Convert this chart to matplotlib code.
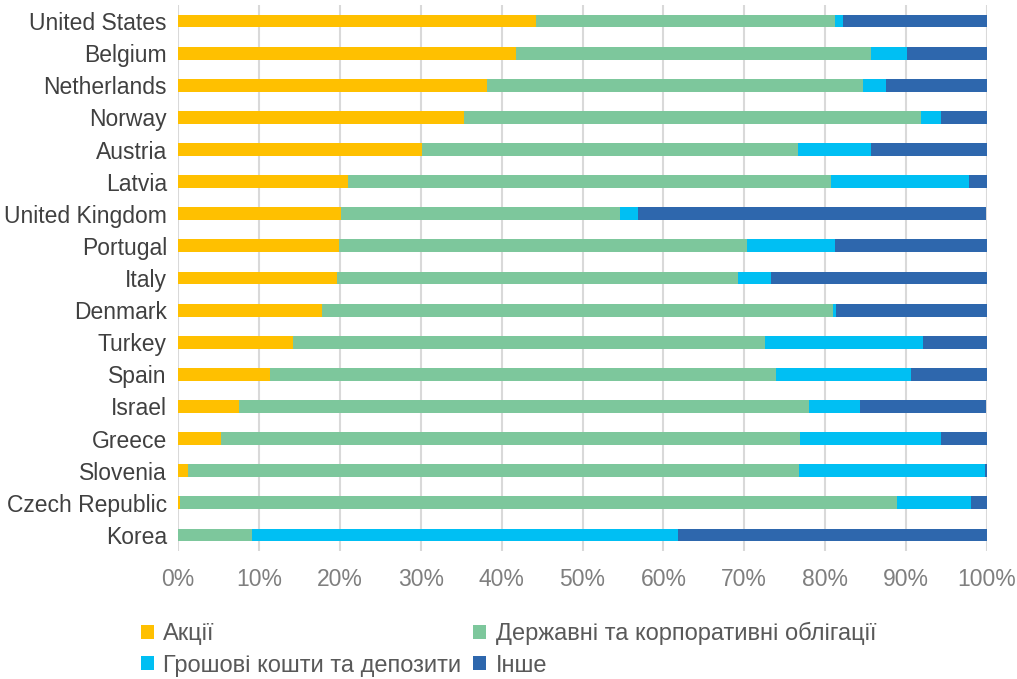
import matplotlib
matplotlib.use("Agg")
import matplotlib.pyplot as plt
from matplotlib.patches import Patch
import numpy as np

plt.rcParams['font.family'] = ['Liberation Sans', 'DejaVu Sans']

# Countries, top to bottom as shown
countries = ['United States', 'Belgium', 'Netherlands', 'Norway', 'Austria',
             'Latvia', 'United Kingdom', 'Portugal', 'Italy', 'Denmark',
             'Turkey', 'Spain', 'Israel', 'Greece', 'Slovenia',
             'Czech Republic', 'Korea']

# Shares (%)
shares = [44.2, 41.8, 38.2, 35.4, 30.1, 21.0, 20.2, 19.9, 19.6, 17.8,
          14.2, 11.4, 7.6, 5.3, 1.2, 0.3, 0.0]
bonds = [37.0, 43.8, 46.5, 56.4, 46.5, 59.7, 34.4, 50.4, 49.6, 63.2,
         58.3, 62.5, 70.4, 71.6, 75.5, 88.6, 9.2]
cash = [1.0, 4.5, 2.8, 2.5, 9.0, 17.1, 2.3, 10.9, 4.1, 0.3,
        19.6, 16.7, 6.3, 17.4, 23.1, 9.1, 52.6]
other = [17.8, 9.9, 12.5, 5.7, 14.4, 2.2, 43.0, 18.8, 26.7, 18.7,
         7.9, 9.4, 15.6, 5.7, 0.2, 2.0, 38.2]

labels = ['Акції', 'Державні та корпоративні облігації',
          'Грошові кошти та депозити', 'Інше']
colors = ['#FFC000', '#7DC79C', '#00BFF3', '#2E67AD']

fig = plt.figure(figsize=(10.17, 6.79), dpi=100)
ax = fig.add_axes([178 / 1017, 1 - 551 / 679, 809 / 1017, 546 / 679])

y = np.arange(len(countries))[::-1]
left = np.zeros(len(countries))
for vals, col in zip([shares, bonds, cash, other], colors):
    vals = np.array(vals)
    ax.barh(y, vals, left=left, height=0.4, color=col, zorder=3)
    left += vals

ax.set_xlim(0, 100)
ax.set_ylim(-0.5, len(countries) - 0.5)
ax.set_xticks(np.arange(0, 101, 10))
ax.set_xticklabels([f'{v}%' for v in range(0, 101, 10)])
ax.set_yticks(y)
ax.set_yticklabels(countries)
ax.tick_params(axis='both', length=0, labelsize=16.5)
ax.tick_params(axis='x', colors='#7F7F7F', pad=12)
ax.tick_params(axis='y', colors='#404040', pad=8)
ax.xaxis.grid(True, color='#D9D9D9', linewidth=1.5, zorder=0)
for s in ['top', 'right', 'bottom', 'left']:
    ax.spines[s].set_visible(False)

# legend fills column-wise, so reorder to get rows: Акції/Державні, Грошові/Інше
order = [0, 2, 1, 3]
handles = [Patch(facecolor=colors[i], edgecolor='none') for i in order]
fig.legend(handles, [labels[i] for i in order], loc='upper center',
           bbox_to_anchor=(0.5, 1 - 622 / 679),
           ncol=2, frameon=False, fontsize=17, labelcolor='#595959',
           handlelength=0.55, handleheight=0.55, handletextpad=0.4,
           columnspacing=0.5, labelspacing=0.4, borderaxespad=0, borderpad=0)

fig.savefig('out.png', dpi=100)
